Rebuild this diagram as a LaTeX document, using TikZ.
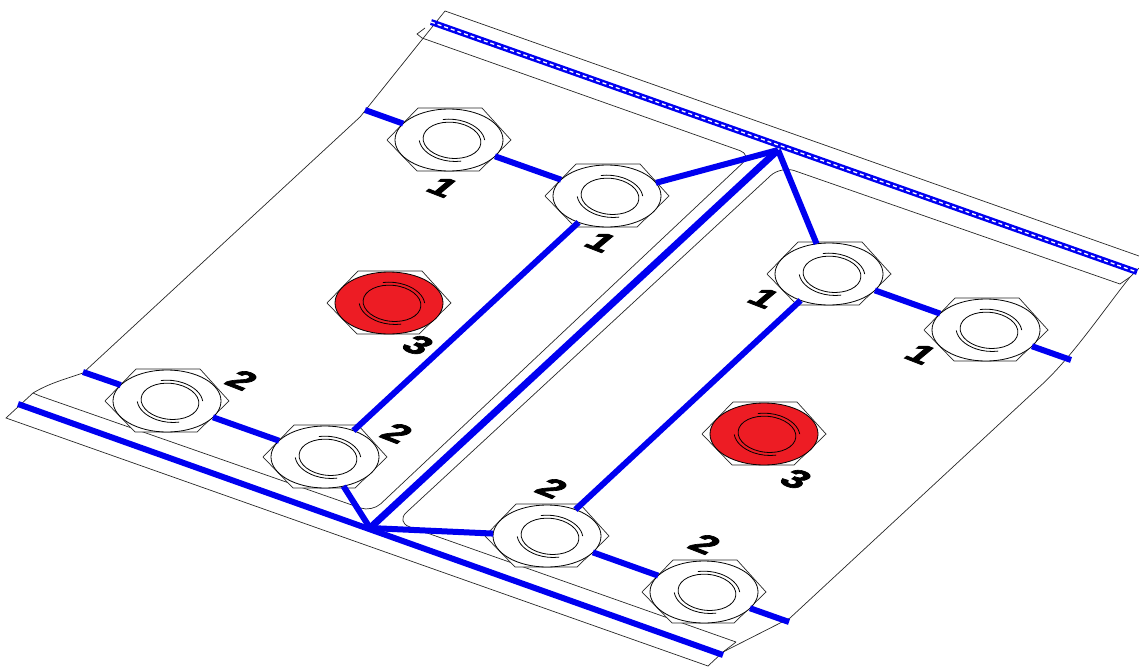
\documentclass[tikz,border=0pt]{standalone}
\usepackage{fontspec}
\setmainfont{Liberation Sans}
\newfontfamily\digitfont[FakeBold=2.5]{Liberation Sans Bold}
\usetikzlibrary{shapes.geometric}
\definecolor{barblue}{RGB}{0,0,240}
\definecolor{boltred}{RGB}{237,28,36}
\tikzset{
  thinline/.style={draw=black!85,line width=0.7pt,line join=miter},
  ringline/.style={draw=black,line width=0.8pt},
  boltring/.style={ellipse,draw=black,line width=0.8pt,inner sep=0pt,outer sep=0pt,minimum width=108pt,minimum height=62pt},
  bluebar/.style={draw=barblue,line width=6pt},
  widebar/.style={draw=barblue,line width=7pt},
  dotbar/.style={draw=white,line width=1.3pt,dash pattern=on 4pt off 3pt},
  digit/.style={font=\digitfont\fontsize{21}{21}\selectfont,text=black,inner sep=0pt,transform shape}
}
\newcommand\drawbolt[4]{%
  \begin{scope}[shift={(#2,#3)}]
    \draw[thinline,fill=white] (-62,0) -- (-31,-32) -- (33,-32) -- (62,0) -- (30,31) -- (-32,31) -- cycle;
    \node[boltring,fill=#4] (#1) at (0,0) {};
    \draw[ringline,rotate=-6] (3,0) ellipse [x radius=29pt,y radius=18pt];
    \draw[ringline,rotate=-6] (3,0) ++(10:33pt and 21pt) arc [start angle=10,end angle=110,x radius=33pt,y radius=21pt];
    \draw[ringline,rotate=-6] (3,0) ++(190:33pt and 21pt) arc [start angle=190,end angle=290,x radius=33pt,y radius=21pt];
  \end{scope}}
\newcommand\drawdigit[4]{%
  \node[digit,cm={1.75,-0.68,1.2,1.0,(0,0)}] (#1) at (#2,#3) {#4};}
\begin{document}
\begin{tikzpicture}[x=1pt,y=-1pt]
\useasboundingbox (0,0) rectangle (1139,666);
% plate outlines
\draw[thinline] (1139,256) -- (445,11) -- (360,117) -- (83,373) .. controls (62,380) and (48,384) .. (33,393) -- (6,418) -- (708,666);
\draw[thinline] (33,393) -- (40,396);
\draw[thinline] (425,28) -- (417,34) -- (422,38);
\draw[thinline,rounded corners=12pt] (422,38) -- (751.5,154.7) -- (372,512) -- (40,396);
\draw[thinline,rounded corners=14pt] (1120,284) -- (781,166) -- (396,522) -- (736,642);
\draw[thinline] (736,642) -- (723,652) -- (708,666);
\draw[thinline] (723,652) -- (790,618) -- (1037,389) .. controls (1070,360) and (1100,315) .. (1130,277) -- (1139,268);
\draw[thinline] (1120,284) -- (1130,277);
% bolts
\drawbolt{A}{449}{140}{white}
\drawbolt{B}{607}{196}{white}
\drawbolt{C}{829}{274}{white}
\drawbolt{D}{986}{330}{white}
\drawbolt{E}{167}{401}{white}
\drawbolt{F}{325}{457}{white}
\drawbolt{G}{547}{536}{white}
\drawbolt{H}{704}{592}{white}
\drawbolt{R}{389}{303}{boltred}
\drawbolt{S}{764}{434}{boltred}
% free ends and hubs
\coordinate (hubtop) at (778,150);
\coordinate (hubbot) at (370,528);
\coordinate (endA) at (365,110);
\coordinate (endD) at (1071,360);
\coordinate (endE) at (83,372);
\coordinate (endH) at (789,622);
\coordinate (topL) at (431,22);
\coordinate (topR) at (1137,272);
\coordinate (botL) at (18,404);
\coordinate (botR) at (723,655);
% blue bars
\draw[bluebar] (topL) -- (topR);
\draw[dotbar] (topL) -- (topR);
\draw[bluebar] (botL) -- (botR);
\draw[bluebar] (endA) -- (A);
\draw[bluebar] (A) -- (B);
\draw[bluebar] (endD) -- (D);
\draw[bluebar] (C) -- (D);
\draw[bluebar] (endE) -- (E);
\draw[bluebar] (E) -- (F);
\draw[bluebar] (G) -- (H);
\draw[bluebar] (endH) -- (H);
\draw[bluebar] (F) -- (B);
\draw[bluebar] (C) -- (G);
\draw[bluebar] (B) -- (hubtop);
\draw[bluebar] (C) -- (hubtop);
\draw[bluebar] (F) -- (hubbot);
\draw[bluebar] (G) -- (hubbot);
\draw[widebar] (hubtop) -- (hubbot);
% digits
\drawdigit{d1}{443}{187}{1}
\drawdigit{d2}{601}{242}{1}
\drawdigit{d3}{242}{380}{2}
\drawdigit{d4}{397}{433}{2}
\drawdigit{d5}{418}{345}{3}
\drawdigit{d6}{764}{298}{1}
\drawdigit{d7}{921}{354}{1}
\drawdigit{d8}{552}{488}{2}
\drawdigit{d9}{705}{544}{2}
\drawdigit{d10}{796}{479}{3}
\end{tikzpicture}
\end{document}
